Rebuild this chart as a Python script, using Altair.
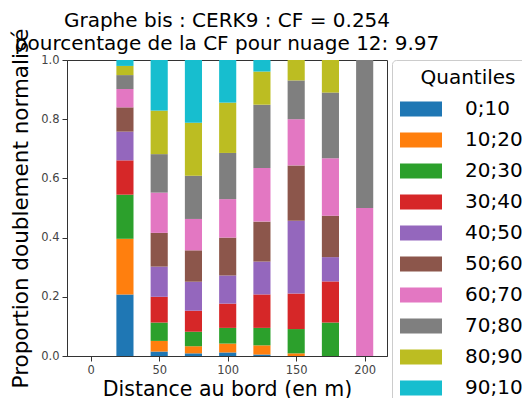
import altair as alt
import pandas as pd

distances = [0, 25, 50, 75, 100, 125, 150, 175, 200]
quantiles = ["0;10", "10;20", "20;30", "30;40", "40;50", "50;60", "60;70", "70;80", "80;90", "90;100"]
colors = ["#1f77b4", "#ff7f0e", "#2ca02c", "#d62728", "#9467bd", "#8c564b", "#e377c2", "#7f7f7f", "#bcbd22", "#17becf"]

# segment heights per distance (one list per quantile, aligned with distances)
q0_10   = [0, 0.208, 0.015, 0.009, 0.012, 0.005, 0.000, 0.000, 0.0]
q10_20  = [0, 0.188, 0.036, 0.024, 0.030, 0.031, 0.009, 0.000, 0.0]
q20_30  = [0, 0.149, 0.062, 0.049, 0.053, 0.059, 0.082, 0.113, 0.0]
q30_40  = [0, 0.116, 0.087, 0.071, 0.082, 0.113, 0.120, 0.139, 0.0]
q40_50  = [0, 0.097, 0.102, 0.098, 0.095, 0.111, 0.246, 0.082, 0.0]
q50_60  = [0, 0.082, 0.114, 0.106, 0.128, 0.135, 0.187, 0.140, 0.0]
q60_70  = [0, 0.062, 0.136, 0.106, 0.130, 0.181, 0.156, 0.194, 0.5]
q70_80  = [0, 0.047, 0.130, 0.146, 0.156, 0.214, 0.131, 0.222, 0.5]
q80_90  = [0, 0.031, 0.147, 0.179, 0.170, 0.112, 0.069, 0.110, 0.0]
q90_100 = [0, 0.020, 0.171, 0.212, 0.144, 0.039, 0.000, 0.000, 0.0]

series = [q0_10, q10_20, q20_30, q30_40, q40_50, q50_60, q60_70, q70_80, q80_90, q90_100]

rows = []
for qi, (q, vals) in enumerate(zip(quantiles, series)):
    for d, v in zip(distances, vals):
        rows.append({"distance": d, "quantile": q, "order": qi, "value": v})
df = pd.DataFrame(rows)

FONT = "DejaVu Sans"

bars = alt.Chart(df).transform_stack(
    stack="value", groupby=["distance"], as_=["y0", "y1"],
    sort=[alt.SortField("order", order="ascending")]
).transform_calculate(
    xa="datum.distance - 6.25", xb="datum.distance + 6.25"
).mark_rect().encode(
    x=alt.X("xa:Q", scale=alt.Scale(domain=[-17.3, 216.3], nice=False, zero=False),
            axis=alt.Axis(values=[0, 50, 100, 150, 200], title="Distance au bord (en m)",
                          grid=False, format="d", titleFontSize=20.5, titlePadding=4)),
    x2="xb:Q",
    y=alt.Y("y0:Q", scale=alt.Scale(domain=[0, 1], nice=False),
            axis=alt.Axis(values=[0, 0.2, 0.4, 0.6, 0.8, 1.0], format=".1f",
                          title="Proportion doublement normalisé", grid=False,
                          titleFontSize=21.5, titlePadding=8)),
    y2="y1:Q",
    color=alt.Color("quantile:N", scale=alt.Scale(domain=quantiles, range=colors),
                    legend=alt.Legend(title="Quantiles", orient="none", legendX=325, legendY=0,
                                      direction="vertical", columns=1,
                                      symbolType="M-1,-0.357L1,-0.357L1,0.357L-1,0.357Z",
                                      symbolSize=1764, symbolStrokeWidth=0,
                                      labelFontSize=20, titleFontSize=20, labelFont=FONT, titleFont=FONT,
                                      titleFontWeight="normal", titleAnchor="middle",
                                      labelAlign="left",
                                      labelOffset=23, rowPadding=0, padding=8,
                                      strokeColor="#cccccc", cornerRadius=4, fillColor="white",
                                      labelColor="black", titleColor="black", titlePadding=0)),
)

chart = bars.properties(
    width=320, height=296,
    title=alt.TitleParams(["Graphe bis : CERK9 : CF = 0.254", "pourcentage de la CF pour nuage 12: 9.97"],
                          font=FONT, fontSize=20, fontWeight="normal", anchor="middle",
                          lineHeight=23, offset=-3, dy=23, color="black"),
    autosize=alt.AutoSizeParams(type="none"),
    padding={"left": 59, "top": 52, "right": 135, "bottom": 42},
).configure_view(
    stroke="#333333", strokeWidth=1
).configure_axis(
    labelFont=FONT, labelFontSize=11.5, labelColor="#444444",
    titleFont=FONT, titleFontWeight="normal", titleColor="black",
    domainColor="#333333", tickColor="#333333", tickSize=5, labelPadding=3,
)

chart.save("out.html", embed_options={"renderer": "svg", "actions": False})
